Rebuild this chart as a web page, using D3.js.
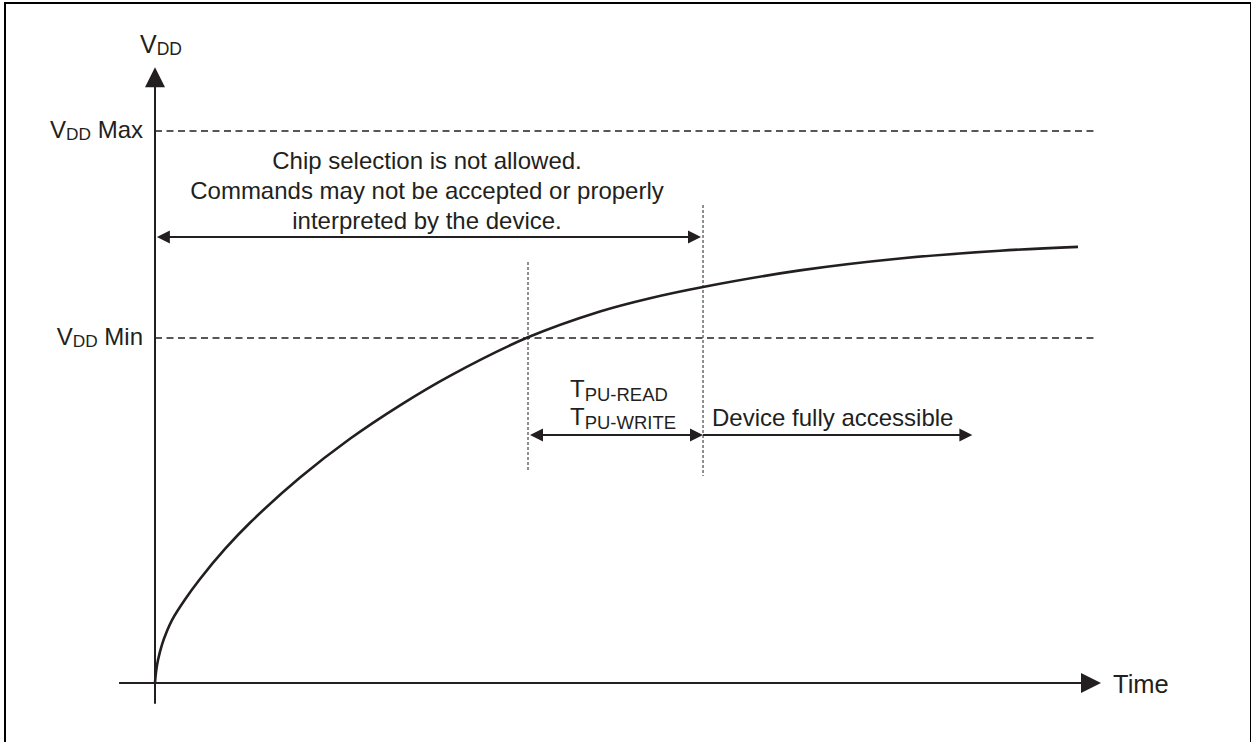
<!DOCTYPE html>
<html>
<head>
<meta charset="utf-8">
<script src="https://cdn.jsdelivr.net/npm/d3@7"></script>
<style>
  html, body { margin: 0; padding: 0; background: #fff; }
  svg { display: block; }
  text { font-family: "Liberation Sans", Arial, Helvetica, sans-serif; fill: #231f20; }
</style>
</head>
<body>
<svg id="chart" width="1251" height="742"></svg>
<script>
// ---- data ----
const curveTime = [0, 0.106, 0.317, 0.740, 1.268, 1.797, 3.171, 4.757, 7.400, 10.04, 15.33, 20.61, 25.90, 31.18, 39.43, 47.04, 52.33, 57.93, 68.18, 78.75, 89.32, 97.57];
const curveVdd  = [0, 0.064, 0.133, 0.223, 0.301, 0.365, 0.484, 0.603, 0.777, 0.929, 1.191, 1.416, 1.610, 1.781, 2.004, 2.154, 2.231, 2.296, 2.392, 2.461, 2.506, 2.528];
const levelNames = ["Max", "Min"];
const levelValues = [3.2, 2.0];
const markerTimes = [39.43, 57.93];           // VDD reaches min, device accessible
const accessEnd = 86.4;
const noteLines = ["Chip selection is not allowed.", "Commands may not be accepted or properly", "interpreted by the device."];

// ---- layout ----
const svg = d3.select("#chart");
const ink = "#231f20";
const x = d3.scaleLinear().domain([0, 100]).range([155, 1101]);
const y = d3.scaleLinear().domain([0, 4]).range([683, -7]);
const FS = 24;

// frame
svg.append("rect").attr("x", 5).attr("y", 3).attr("width", 1246).attr("height", 800)
  .attr("fill", "none").attr("stroke", "#000").attr("stroke-width", 2);

// dashed level lines
levelValues.forEach((v, i) => {
  svg.append("line").attr("x1", x(0)).attr("x2", x(99.2)).attr("y1", y(v)).attr("y2", y(v))
    .attr("stroke", ink).attr("stroke-width", 1.6).attr("stroke-dasharray", "7,4.5");
  const t = svg.append("text").attr("x", 143).attr("y", y(v) + 7).attr("text-anchor", "end")
    .attr("font-size", FS);
  t.append("tspan").text("V");
  t.append("tspan").attr("font-size", FS * 0.72).attr("dy", 2).text("DD");
  t.append("tspan").attr("dy", -2).text(" " + levelNames[i]);
});

// axes
svg.append("line").attr("x1", x(0)).attr("x2", x(0)).attr("y1", y(-0.12)).attr("y2", y(3.48))
  .attr("stroke", ink).attr("stroke-width", 2);
svg.append("path")
  .attr("d", `M${x(0)},${y(3.57)} L${x(0) - 10},${y(3.57) + 20} L${x(0) + 10},${y(3.57) + 20} Z`)
  .attr("fill", ink);
svg.append("line").attr("x1", x(-3.8)).attr("x2", x(98)).attr("y1", y(0)).attr("y2", y(0))
  .attr("stroke", ink).attr("stroke-width", 2);
svg.append("path")
  .attr("d", `M${x(100)},${y(0)} L${x(100) - 20},${y(0) - 10} L${x(100) - 20},${y(0) + 10} Z`)
  .attr("fill", ink);

// axis labels
const vl = svg.append("text").attr("x", 140).attr("y", 53).attr("font-size", 25);
vl.append("tspan").text("V");
vl.append("tspan").attr("font-size", 25 * 0.7).attr("dy", 1.5).text("DD");
svg.append("text").attr("x", 1113).attr("y", 693).attr("font-size", 25.5).text("Time");

// curve
const pts = curveTime.map((t, i) => [t, curveVdd[i]]);
svg.append("path").datum(pts)
  .attr("d", d3.line().x(d => x(d[0])).y(d => y(d[1])).curve(d3.curveCatmullRom.alpha(0.5)))
  .attr("fill", "none").attr("stroke", ink).attr("stroke-width", 2.6);

// vertical dotted markers
svg.append("line").attr("x1", x(markerTimes[0])).attr("x2", x(markerTimes[0]))
  .attr("y1", 262).attr("y2", 472).attr("stroke", ink).attr("stroke-width", 1).attr("stroke-dasharray", "3,2");
svg.append("line").attr("x1", x(markerTimes[1])).attr("x2", x(markerTimes[1]))
  .attr("y1", 205).attr("y2", 476).attr("stroke", ink).attr("stroke-width", 1).attr("stroke-dasharray", "3,2");

// arrows helper
function hArrow(x1, x2, yy, left, right) {
  svg.append("line").attr("x1", x1 + (left ? 6 : 0)).attr("x2", x2 - (right ? 6 : 0))
    .attr("y1", yy).attr("y2", yy).attr("stroke", ink).attr("stroke-width", 2);
  if (left) svg.append("path").attr("d", `M${x1},${yy} L${x1 + 13},${yy - 6.5} L${x1 + 13},${yy + 6.5} Z`).attr("fill", ink);
  if (right) svg.append("path").attr("d", `M${x2},${yy} L${x2 - 13},${yy - 6.5} L${x2 - 13},${yy + 6.5} Z`).attr("fill", ink);
}
hArrow(x(0.2), x(markerTimes[1]) - 2, 237, true, true);
hArrow(x(markerTimes[0]) + 2, x(markerTimes[1]), 435, true, true);
hArrow(x(markerTimes[1]), x(accessEnd), 435, false, true);

// note text
noteLines.forEach((s, i) => {
  svg.append("text").attr("x", 427).attr("y", 169 + i * 30).attr("text-anchor", "middle")
    .attr("font-size", FS).text(s);
});

// TPU labels
[["PU-READ", 397], ["PU-WRITE", 425]].forEach(([sub, yy]) => {
  const t = svg.append("text").attr("x", 570).attr("y", yy).attr("font-size", FS);
  t.append("tspan").text("T");
  t.append("tspan").attr("font-size", FS * 0.77).attr("dy", 3.5).text(sub);
});
svg.append("text").attr("x", 712).attr("y", 426).attr("font-size", FS).text("Device fully accessible");
</script>
</body>
</html>
